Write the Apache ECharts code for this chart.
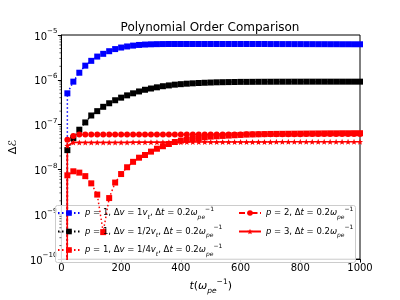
<!DOCTYPE html>
<html><head><meta charset="utf-8">
<script src="https://cdn.jsdelivr.net/npm/echarts@6/dist/echarts.min.js"></script>
<style>html,body{margin:0;padding:0;background:#fff}#c{width:400px;height:300px}</style>
</head><body><div id="c"></div>
<script>
var times = [20,40,60,80,100,120,140,160,180,200,220,240,260,280,300,320,340,360,380,400,420,440,460,480,500,520,540,560,580,600,620,640,660,680,700,720,740,760,780,800,820,840,860,880,900,920,940,960,980,1000];
var startTime = 19.5;
var startValue = 1e-12;
var blueVals = [5.0e-7,9.1e-7,1.44e-6,2.07e-6,2.65e-6,3.3e-6,3.8e-6,4.35e-6,4.85e-6,5.25e-6,5.55e-6,5.8e-6,6.0e-6,6.12e-6,6.2e-6,6.25e-6,6.28e-6,6.3e-6,6.3e-6,6.3e-6,6.3e-6,6.3e-6,6.3e-6,6.3e-6,6.3e-6,6.3e-6,6.3e-6,6.3e-6,6.3e-6,6.3e-6,6.3e-6,6.3e-6,6.3e-6,6.3e-6,6.28e-6,6.28e-6,6.27e-6,6.27e-6,6.26e-6,6.26e-6,6.25e-6,6.25e-6,6.24e-6,6.24e-6,6.23e-6,6.23e-6,6.22e-6,6.22e-6,6.21e-6,6.21e-6];
var blackVals = [2.7e-8,5.0e-8,7.7e-8,1.12e-7,1.6e-7,2.0e-7,2.5e-7,3.0e-7,3.5e-7,4.0e-7,4.5e-7,5.0e-7,5.5e-7,6.0e-7,6.4e-7,6.8e-7,7.2e-7,7.5e-7,7.8e-7,8.0e-7,8.2e-7,8.35e-7,8.5e-7,8.6e-7,8.7e-7,8.8e-7,8.85e-7,8.9e-7,8.95e-7,9.0e-7,9.0e-7,9.02e-7,9.04e-7,9.05e-7,9.06e-7,9.07e-7,9.08e-7,9.08e-7,9.09e-7,9.09e-7,9.1e-7,9.1e-7,9.1e-7,9.1e-7,9.1e-7,9.1e-7,9.1e-7,9.1e-7,9.1e-7,9.1e-7];
var redSqVals = [7.4e-9,9.1e-9,8.5e-9,7.1e-9,4.9e-9,2.75e-9,4e-10,2.3e-9,5.1e-9,7.9e-9,1.12e-8,1.48e-8,1.83e-8,2.1e-8,2.5e-8,2.9e-8,3.3e-8,3.7e-8,4.1e-8,4.4e-8,4.6e-8,4.8e-8,5.0e-8,5.2e-8,5.4e-8,5.5e-8,5.6e-8,5.7e-8,5.8e-8,5.9e-8,6.0e-8,6.05e-8,6.1e-8,6.15e-8,6.2e-8,6.22e-8,6.24e-8,6.26e-8,6.28e-8,6.3e-8,6.32e-8,6.34e-8,6.36e-8,6.38e-8,6.4e-8,6.4e-8,6.42e-8,6.42e-8,6.44e-8,6.44e-8];
var p2Vals = [4.6e-8,5.6e-8,6.0e-8,6.0e-8,6.0e-8,6.0e-8,6.0e-8,6.0e-8,6.0e-8,6.0e-8,6.0e-8,6.0e-8,6.0e-8,6.0e-8,6.0e-8,6.0e-8,6.0e-8,6.0e-8,6.0e-8,6.0e-8,6.0e-8,6.0e-8,6.0e-8,6.0e-8,6.0e-8,6.05e-8,6.05e-8,6.05e-8,6.05e-8,6.05e-8,6.1e-8,6.1e-8,6.1e-8,6.1e-8,6.1e-8,6.1e-8,6.1e-8,6.1e-8,6.1e-8,6.1e-8,6.15e-8,6.15e-8,6.15e-8,6.15e-8,6.15e-8,6.15e-8,6.15e-8,6.15e-8,6.15e-8,6.15e-8];
var p3Vals = [3.4e-8,4.0e-8,4.0e-8,4.0e-8,4.0e-8,4.0e-8,4.0e-8,4.0e-8,4.0e-8,4.0e-8,4.0e-8,4.05e-8,4.05e-8,4.05e-8,4.05e-8,4.05e-8,4.05e-8,4.05e-8,4.05e-8,4.05e-8,4.1e-8,4.1e-8,4.1e-8,4.1e-8,4.1e-8,4.1e-8,4.1e-8,4.1e-8,4.1e-8,4.1e-8,4.1e-8,4.1e-8,4.1e-8,4.1e-8,4.1e-8,4.15e-8,4.15e-8,4.15e-8,4.15e-8,4.15e-8,4.15e-8,4.15e-8,4.15e-8,4.15e-8,4.15e-8,4.15e-8,4.15e-8,4.15e-8,4.15e-8,4.15e-8];
var xTicks = [0,200,400,600,800,1000];
var yMin = 1e-10, yMax = 1e-5;
var seriesNames = ['s1','s2','s3','s4','s5'];
var legendLabels = {
  s1: '{i|p} = 1, Δ{i|v} = 1{i|v}{sb|t}, Δ{i|t} = 0.2{i|ω}{sb|pe}{sp|−1}',
  s2: '{i|p} = 1, Δ{i|v} = 1/2{i|v}{sb|t}, Δ{i|t} = 0.2{i|ω}{sb|pe}{sp|−1}',
  s3: '{i|p} = 1, Δ{i|v} = 1/4{i|v}{sb|t}, Δ{i|t} = 0.2{i|ω}{sb|pe}{sp|−1}',
  s4: '{i|p} = 2, Δ{i|t} = 0.2{i|ω}{sb|pe}{sp|−1}',
  s5: '{i|p} = 3, Δ{i|t} = 0.2{i|ω}{sb|pe}{sp|−1}'
};

var minorTicks = [];
for (var k = -10; k < -5; k++) for (var m = 2; m <= 9; m++) minorTicks.push(m * Math.pow(10, k));

function build(vals) {
  var d = [{value: [startTime, startValue], symbol: 'none'}];
  for (var i = 0; i < times.length; i++) d.push([times[i], vals[i]]);
  return d;
}
var FONT = 'DejaVu Sans';
var starPath = 'path://M0,-10 L2.6,-3.6 L9.5,-3.1 L4.2,1.4 L5.9,8.1 L0,4.4 L-5.9,8.1 L-4.2,1.4 L-9.5,-3.1 L-2.6,-3.6 Z';

var legRich = {
  n: {fontSize: 8.5, fontFamily: FONT, color: '#000', lineHeight: 14, verticalAlign: 'middle'},
  i: {fontSize: 8.5, fontFamily: FONT, fontStyle: 'italic', color: '#000', lineHeight: 14, verticalAlign: 'middle'},
  sb: {fontSize: 6, fontFamily: FONT, fontStyle: 'italic', color: '#000', lineHeight: 8, verticalAlign: 'bottom'},
  sp: {fontSize: 6, fontFamily: FONT, color: '#000', lineHeight: 8, verticalAlign: 'top'}
};
function legendFmt(name) { return '{n|' + legendLabels[name].replace(/\{(\w+)\|([^}]*)\}/g, '}{$1|$2}{n|') + '}'; }

var chart = echarts.init(document.getElementById('c'), null, {renderer: 'canvas'});
chart.setOption({
  animation: false,
  backgroundColor: '#fff',
  title: {text: 'Polynomial Order Comparison', left: 205, textAlign: 'center', top: 17,
    textStyle: {fontFamily: FONT, fontSize: 12, fontWeight: 'normal', color: '#000'}},
  grid: {left: 50, right: 40, top: 35, bottom: 33.5, show: true, borderColor: '#000', borderWidth: 1, backgroundColor: 'transparent'},
  graphic: [{type: 'rect', left: 55, top: 205, z: 3, shape: {width: 300, height: 57, r: 2},
    style: {fill: 'rgba(255,255,255,0.85)', stroke: '#cccccc', lineWidth: 1}}],
  legend: [
    {data: ['s1','s2','s3'], orient: 'vertical', left: 57, top: 206, itemWidth: 22, itemHeight: 7, itemGap: 4.5, padding: 0, z: 5,
      formatter: legendFmt, textStyle: {rich: legRich, fontFamily: FONT, fontSize: 8.5, color: '#000'}, selectedMode: false},
    {data: ['s4','s5'], orient: 'vertical', left: 238, top: 206, itemWidth: 22, itemHeight: 7, itemGap: 4.5, padding: 0, z: 5,
      formatter: legendFmt, textStyle: {rich: legRich, fontFamily: FONT, fontSize: 8.5, color: '#000'}, selectedMode: false}
  ],
  xAxis: {type: 'value', min: 0, max: 1000, interval: 200,
    axisLine: {show: true, lineStyle: {color: '#000', width: 1}},
    axisTick: {show: true, length: 3.5, lineStyle: {color: '#000'}},
    splitLine: {show: false},
    axisLabel: {color: '#000', fontFamily: FONT, fontSize: 10, margin: 4,
      formatter: function (v) { return xTicks.indexOf(v) >= 0 ? String(v) : ''; }},
    name: '{i|t}{n|(}{i|ω}{sb|pe}{sp|−1}{n|)}', nameLocation: 'middle', nameGap: 18,
    nameTextStyle: {rich: {
      n: {fontSize: 11, fontFamily: FONT, color: '#000', lineHeight: 17, verticalAlign: 'middle'},
      i: {fontSize: 11, fontFamily: FONT, fontStyle: 'italic', color: '#000', lineHeight: 17, verticalAlign: 'middle'},
      sb: {fontSize: 7.5, fontFamily: FONT, fontStyle: 'italic', color: '#000', lineHeight: 9, verticalAlign: 'bottom'},
      sp: {fontSize: 7.5, fontFamily: FONT, color: '#000', lineHeight: 9, verticalAlign: 'top'}}}
  },
  yAxis: {type: 'log', logBase: 10, min: yMin, max: yMax,
    axisLine: {show: true, lineStyle: {color: '#000', width: 1}},
    axisTick: {show: true, length: 3.5, lineStyle: {color: '#000'}},
    splitLine: {show: false},
    axisLabel: {margin: 4, formatter: function (v) { var e = Math.round(Math.log(v) / Math.LN10); return '{b|10}{s|' + (e < 0 ? '−' + (-e) : e) + '}'; },
      rich: {b: {fontSize: 10, fontFamily: FONT, color: '#000', lineHeight: 14, verticalAlign: 'bottom'},
             s: {fontSize: 7, fontFamily: FONT, color: '#000', lineHeight: 9, verticalAlign: 'top'}}},
    name: 'Δℰ', nameLocation: 'middle', nameRotate: 90, nameGap: 32,
    nameTextStyle: {fontFamily: FONT, fontSize: 11, color: '#000'}
  },
  series: [
    {name: 's1', type: 'line', data: build(blueVals), color: '#0000ff', symbol: 'rect', symbolSize: 6,
      lineStyle: {type: [1.5, 2.5], width: 1.5}, itemStyle: {color: '#0000ff'}, clip: true, silent: true},
    {name: 's2', type: 'line', data: build(blackVals), color: '#000000', symbol: 'rect', symbolSize: 6,
      lineStyle: {type: [1.5, 2.5], width: 1.5}, itemStyle: {color: '#000000'}, clip: true, silent: true},
    {name: 's3', type: 'line', data: build(redSqVals), color: '#ff0000', symbol: 'rect', symbolSize: 6,
      lineStyle: {type: [1.5, 2.5], width: 1.5}, itemStyle: {color: '#ff0000'}, clip: true, silent: true},
    {name: 's4', type: 'line', data: build(p2Vals), color: '#ff0000', symbol: 'circle', symbolSize: 6,
      lineStyle: {type: [6, 2.5, 1.5, 2.5], width: 1.5}, itemStyle: {color: '#ff0000'}, clip: true, silent: true},
    {name: 's5', type: 'line', data: build(p3Vals), color: '#ff0000', symbol: starPath, symbolSize: 6,
      lineStyle: {type: 'solid', width: 1.5}, itemStyle: {color: '#ff0000'}, clip: true, silent: true},
    {name: 'minor', type: 'custom', silent: true, clip: false, z: 10,
      data: minorTicks.map(function (v) { return [0, v]; }),
      renderItem: function (params, api) {
        var p = api.coord([0, api.value(1)]);
        return {type: 'line', shape: {x1: p[0] - 2, y1: p[1], x2: p[0], y2: p[1]}, style: {stroke: '#000', lineWidth: 0.6}};
      }}
  ]
});
</script></body></html>
